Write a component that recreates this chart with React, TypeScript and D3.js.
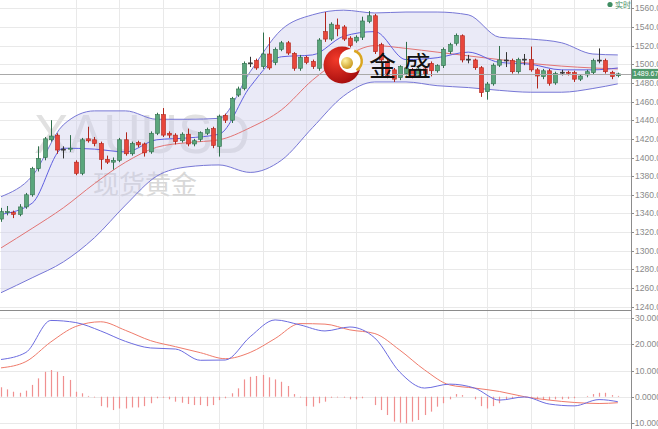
import React, { useRef, useEffect } from 'react';
import * as d3 from 'd3';

// daily candles: [open, high, low, close]
const ohlc: [number, number, number, number][] = [
  [1334, 1346, 1331, 1342], [1341, 1348, 1338, 1342], [1341, 1343, 1335, 1339], [1339, 1350, 1337, 1347],
  [1347, 1362, 1345, 1360], [1360, 1390, 1358, 1388], [1388, 1412, 1385, 1399], [1400, 1422, 1397, 1420],
  [1419, 1440, 1417, 1423], [1424, 1426, 1404, 1408], [1409, 1412, 1399, 1409], [1409, 1424, 1406, 1410],
  [1395, 1397, 1381, 1383], [1383, 1421, 1381, 1419], [1420, 1433, 1416, 1418], [1419, 1422, 1412, 1415],
  [1415, 1417, 1387, 1398], [1398, 1402, 1393, 1395], [1395, 1400, 1387, 1397], [1397, 1421, 1395, 1419],
  [1419, 1427, 1402, 1404], [1404, 1417, 1402, 1415], [1416, 1418, 1411, 1413.5], [1414.5, 1416, 1401, 1405],
  [1406, 1428, 1404, 1426], [1426, 1448, 1424, 1446], [1446, 1453, 1422, 1424], [1426, 1428, 1421, 1424],
  [1424, 1426, 1414, 1417], [1418, 1427, 1416, 1425], [1425, 1431, 1412, 1414.5], [1414.5, 1420, 1412, 1418],
  [1419.5, 1428, 1417, 1426.6], [1426, 1432, 1424, 1430], [1431, 1433, 1410, 1413], [1412, 1446, 1401, 1444],
  [1445, 1447, 1437, 1440], [1440, 1465, 1437, 1463.5], [1467, 1476, 1465, 1473.5], [1474, 1503, 1472, 1501],
  [1501, 1508, 1497, 1501.5], [1504, 1506, 1494, 1496], [1497.5, 1534, 1495, 1511], [1511, 1529, 1494, 1496],
  [1501.7, 1518, 1499, 1516], [1516, 1525, 1514, 1523], [1523, 1525, 1510, 1512], [1511.7, 1513, 1493, 1495.7],
  [1495.7, 1510, 1493, 1507.5], [1507.5, 1509, 1500, 1502], [1503, 1505, 1495, 1497.5], [1495.7, 1528, 1493, 1526],
  [1535, 1556, 1524, 1527], [1527, 1545, 1525, 1543], [1542, 1549, 1530, 1538], [1540, 1542, 1525, 1527],
  [1528, 1530, 1518, 1520], [1525, 1531, 1523, 1529], [1529, 1551, 1526, 1546.4], [1546, 1557, 1544, 1552],
  [1552, 1554, 1511, 1513.5], [1521, 1523, 1502, 1504.6], [1503, 1505, 1485, 1488], [1494, 1496, 1481, 1484],
  [1485.6, 1499, 1483, 1497.6], [1490, 1524, 1488, 1496], [1494, 1496, 1485, 1487], [1488, 1497, 1486, 1495],
  [1495, 1497, 1486, 1489], [1501, 1503, 1487, 1493], [1493, 1500, 1491, 1498.5], [1498.5, 1518, 1496, 1516],
  [1513.5, 1523, 1511, 1521], [1522.5, 1533, 1520, 1531], [1530.6, 1532, 1502, 1504.6], [1505, 1510, 1501, 1505.5],
  [1504.6, 1506, 1494, 1496.3], [1496.3, 1498, 1465, 1469.5], [1470.6, 1481, 1462, 1478.8], [1479, 1501, 1477, 1499],
  [1499, 1519.6, 1497, 1504.6], [1504.6, 1513, 1497, 1504], [1504, 1506, 1490, 1492], [1492, 1507, 1490, 1505],
  [1505, 1511, 1499, 1505.5], [1505, 1519, 1492, 1494], [1494, 1496, 1474, 1487.4], [1486.7, 1495, 1484, 1493],
  [1493, 1495, 1477, 1479.6], [1480, 1492, 1478, 1490], [1491, 1494, 1488, 1491.5], [1491.4, 1493, 1488, 1490.4],
  [1491, 1493, 1481, 1484], [1484, 1489, 1482, 1487.4], [1488.5, 1494, 1486, 1492], [1491, 1506, 1489, 1504],
  [1504, 1517, 1501, 1504.5], [1504, 1506, 1490, 1492], [1491.4, 1493, 1484, 1486.7], [1487.7, 1491, 1486, 1489.67],
];

const lastPrice = 1489.67;

// bollinger / MA readings, taken at these candle indexes
const bandIdx = [0, 5, 10, 15, 20, 25, 30, 35, 40, 45, 50, 55, 60, 65, 70, 75, 80, 85, 90, 95, 99];
const upperBand = [1358, 1380, 1435, 1450, 1450, 1441, 1441, 1442, 1492, 1537, 1553, 1558, 1555, 1556, 1556, 1553, 1529, 1527, 1523, 1511, 1510];
const lowerBand = [1255, 1271, 1288, 1314, 1349, 1380, 1390, 1392, 1384, 1397, 1432, 1466, 1481, 1481, 1477, 1475, 1472, 1470, 1470, 1474, 1479];
const midBand = [1303, 1324, 1346, 1372, 1395, 1411, 1416, 1419, 1432, 1451, 1483, 1507, 1520, 1517, 1513, 1509, 1505, 1501, 1498, 1496, 1495];
const fastMA = [1339, 1351, 1410, 1409, 1406, 1419, 1421, 1425, 1476, 1508, 1510, 1530, 1535, 1505, 1507, 1513, 1502, 1500, 1494, 1494, 1496];

// MACD
const macdIdx = [0, 4, 8, 12, 16, 20, 24, 28, 32, 36, 40, 44, 48, 52, 56, 60, 64, 68, 72, 76, 80, 84, 88, 92, 96, 99];
const dif = [14.2, 16.9, 29.1, 28.3, 25.1, 21.1, 18.6, 18.2, 13.9, 14.0, 22.9, 29.3, 27.4, 25.1, 26.6, 22.4, 9.4, 3.3, 4.8, 3.3, -1.3, -0.1, -2.8, -3.5, -1.1, -1.9];
const dea = [11.0, 13.4, 20.9, 26.8, 28.6, 25.3, 21.4, 19.1, 16.8, 14.5, 16.9, 22.2, 27.9, 27.7, 25.5, 24.1, 17.8, 10.2, 4.5, 3.3, 2.0, 0.0, -1.3, -2.2, -2.6, -2.3];
const hist = [
  3.6, 2.8, 1.9, 1.5, 2.3, 4.5, 7.0, 9.5, 10.2, 9.5,
  7.9, 6.4, 1.9, 1.3, 0.3, -0.3, -3.6, -4.1, -5.1, -4.5,
  -4.5, -4.1, -4.1, -3.6, -2.5, -0.6, -0.4, -1.0, -1.9, -2.3,
  -2.8, -3.2, -3.2, -3.6, -3.2, -1.3, -0.6, 1.3, 3.2, 6.6,
  7.6, 7.9, 8.3, 7.4, 6.6, 5.7, 4.1, 1.0, -0.3, -3.6,
  -3.8, -2.5, -1.9, -0.4, -0.3, -0.4, -1.0, -1.0, -0.6, 0,
  -3.2, -5.1, -7.0, -9.5, -9.9, -10.2, -9.5, -8.9, -7.0, -5.7,
  -3.8, -2.5, -1.0, 1.0, 0.6, 0, -1.0, -3.6, -4.5, -3.6,
  -2.5, -1.0, -0.6, -0.3, 0, -0.4, -1.0, -1.3, -1.3, -1.0,
  -1.0, -0.8, -0.6, 0, 0.3, 1.0, 1.5, 1.5, 0.6, 0.3,
];

const priceTicks = [1560, 1540, 1520, 1500, 1480, 1460, 1440, 1420, 1400, 1380, 1360, 1340, 1320, 1300, 1280, 1260, 1240];
const macdTicks = [30, 20, 10, 0, -10];
const gridIdx = [12, 19, 26, 35, 42, 49, 57, 71, 78, 85, 92];

const W = 658;
const H = 429;
const PLOT_R = 631;
const SPLIT = 310;

const App: React.FC = () => {
  const svgRef = useRef<SVGSVGElement | null>(null);

  useEffect(() => {
    if (!svgRef.current) return;
    const svg = d3.select(svgRef.current);
    svg.selectAll('*').remove();

    const x = d3.scaleLinear().domain([0, 99]).range([1, 617.8]);
    const yP = d3.scaleLinear().domain([1240, 1560]).range([306.7, 8.3]);
    const yM = d3.scaleLinear().domain([-10, 30]).range([422.9, 318.1]);

    svg.append('rect').attr('width', W).attr('height', H).attr('fill', '#fff');

    const defs = svg.append('defs');
    defs.append('clipPath').attr('id', 'clipP')
      .append('rect').attr('x', 0).attr('y', 0).attr('width', PLOT_R).attr('height', SPLIT);
    defs.append('clipPath').attr('id', 'clipM')
      .append('rect').attr('x', 0).attr('y', SPLIT).attr('width', PLOT_R).attr('height', H - SPLIT);
    const red = defs.append('radialGradient').attr('id', 'logoRed').attr('cx', '35%').attr('cy', '35%').attr('r', '70%');
    red.append('stop').attr('offset', '0%').attr('stop-color', '#f23a2a');
    red.append('stop').attr('offset', '100%').attr('stop-color', '#a50d0d');
    const gold = defs.append('radialGradient').attr('id', 'logoGold').attr('cx', '35%').attr('cy', '30%').attr('r', '75%');
    gold.append('stop').attr('offset', '0%').attr('stop-color', '#fff2a0');
    gold.append('stop').attr('offset', '100%').attr('stop-color', '#c8961a');

    // grid
    const grid = svg.append('g').attr('stroke', '#e9e9e9').attr('stroke-width', 1);
    grid.selectAll('line.hp').data(priceTicks).join('line')
      .attr('x1', 0).attr('x2', PLOT_R)
      .attr('y1', d => Math.round(yP(d)) + 0.5).attr('y2', d => Math.round(yP(d)) + 0.5);
    grid.selectAll('line.hm').data(macdTicks).join('line')
      .attr('x1', 0).attr('x2', PLOT_R)
      .attr('y1', d => Math.round(yM(d)) + 0.5).attr('y2', d => Math.round(yM(d)) + 0.5);
    grid.selectAll('line.v').data(gridIdx).join('line')
      .attr('x1', d => Math.round(x(d)) + 0.5).attr('x2', d => Math.round(x(d)) + 0.5)
      .attr('y1', 0).attr('y2', H);

    const price = svg.append('g').attr('clip-path', 'url(#clipP)');

    // watermark
    price.append('text')
      .attr('x', 34).attr('y', 153)
      .attr('font-family', 'Liberation Sans, Arial, sans-serif')
      .attr('font-size', 56)
      .attr('textLength', 216).attr('lengthAdjust', 'spacingAndGlyphs')
      .attr('fill', '#e1e1e1')
      .text('XAUUSD');
    price.append('text')
      .attr('x', 93).attr('y', 194)
      .attr('font-family', 'Noto Sans CJK SC, sans-serif')
      .attr('font-size', 26)
      .attr('fill', '#d8d8d8')
      .text('现货黄金');

    // bollinger band
    const bandRows = bandIdx.map((i, k) => ({ i, up: upperBand[k], lo: lowerBand[k], mid: midBand[k], ma: fastMA[k] }));
    price.append('path')
      .datum(bandRows)
      .attr('fill', 'rgba(205,205,235,0.42)')
      .attr('d', d3.area<any>().x(d => x(d.i)).y0(d => yP(d.lo)).y1(d => yP(d.up)).curve(d3.curveMonotoneX));

    const lineOf = (key: string) =>
      d3.line<any>().x(d => x(d.i)).y(d => yP(d[key])).curve(d3.curveMonotoneX);
    price.append('path').datum(bandRows).attr('fill', 'none').attr('stroke', '#7777d6').attr('stroke-width', 1).attr('d', lineOf('up'));
    price.append('path').datum(bandRows).attr('fill', 'none').attr('stroke', '#7777d6').attr('stroke-width', 1).attr('d', lineOf('lo'));
    price.append('path').datum(bandRows).attr('fill', 'none').attr('stroke', '#e27474').attr('stroke-width', 1).attr('d', lineOf('mid'));
    price.append('path').datum(bandRows).attr('fill', 'none').attr('stroke', '#5f5fe0').attr('stroke-width', 1).attr('d', lineOf('ma'));

    // current price line
    const yLast = Math.round(yP(lastPrice)) + 0.5;
    svg.append('line').attr('x1', 0).attr('x2', PLOT_R).attr('y1', yLast).attr('y2', yLast)
      .attr('stroke', '#a9a9a9').attr('stroke-width', 1);

    // candles
    const candles = price.selectAll('g.c').data(ohlc).join('g');
    const isDoji = (d: number[]) => Math.abs(d[3] - d[0]) < 1;
    const border = (d: number[]) => (isDoji(d) ? '#333' : d[3] >= d[0] ? '#2f6f4b' : '#b0251c');
    candles.append('line')
      .attr('x1', (_d, i) => Math.round(x(i)) + 0.5).attr('x2', (_d, i) => Math.round(x(i)) + 0.5)
      .attr('y1', d => yP(d[1])).attr('y2', d => yP(d[2]))
      .attr('stroke', d => border(d)).attr('stroke-width', 1);
    candles.append('rect')
      .attr('x', (_d, i) => Math.round(x(i)) - 1.5)
      .attr('width', 4)
      .attr('y', d => yP(Math.max(d[0], d[3])))
      .attr('height', d => Math.max(1, Math.abs(yP(d[0]) - yP(d[3]))))
      .attr('fill', d => (isDoji(d) ? '#444' : d[3] >= d[0] ? '#5aa67c' : '#e8463b'))
      .attr('stroke', d => border(d)).attr('stroke-width', 0.6);

    // logo
    const logo = svg.append('g');
    logo.append('circle').attr('cx', 342).attr('cy', 65).attr('r', 18.5).attr('fill', 'url(#logoRed)');
    logo.append('circle').attr('cx', 351).attr('cy', 61).attr('r', 12).attr('fill', '#fff');
    logo.append('path')
      .attr('d', d3.arc()({ innerRadius: 9.5, outerRadius: 12, startAngle: 0.3, endAngle: 2.6 }) as string)
      .attr('transform', 'translate(351,61)').attr('fill', '#d9a521');
    logo.append('circle').attr('cx', 347).attr('cy', 63).attr('r', 6).attr('fill', 'url(#logoGold)');
    svg.append('text')
      .attr('x', 369).attr('y', 76)
      .attr('font-family', 'Noto Sans CJK SC, sans-serif')
      .attr('font-size', 27).attr('letter-spacing', 8)
      .attr('fill', '#111')
      .text('金盛');

    // MACD panel
    const macd = svg.append('g').attr('clip-path', 'url(#clipM)');
    macd.selectAll('line.h').data(hist).join('line')
      .attr('x1', (_d, i) => Math.round(x(i)) + 0.5).attr('x2', (_d, i) => Math.round(x(i)) + 0.5)
      .attr('y1', yM(0)).attr('y2', d => yM(d))
      .attr('stroke', '#f09090').attr('stroke-width', 1.2);
    const macdRows = macdIdx.map((i, k) => ({ i, dif: dif[k], dea: dea[k] }));
    const mline = (key: string) =>
      d3.line<any>().x(d => x(d.i)).y(d => yM(d[key])).curve(d3.curveMonotoneX);
    macd.append('path').datum(macdRows).attr('fill', 'none').attr('stroke', '#ef7b6b').attr('stroke-width', 1).attr('d', mline('dea'));
    macd.append('path').datum(macdRows).attr('fill', 'none').attr('stroke', '#6c6ce0').attr('stroke-width', 1).attr('d', mline('dif'));

    // frame
    svg.append('line').attr('x1', 0).attr('x2', PLOT_R).attr('y1', SPLIT + 0.5).attr('y2', SPLIT + 0.5)
      .attr('stroke', '#8c8c8c').attr('stroke-width', 1.2);
    svg.append('line').attr('x1', PLOT_R + 0.5).attr('x2', PLOT_R + 0.5).attr('y1', 0).attr('y2', H)
      .attr('stroke', '#8c8c8c').attr('stroke-width', 1);

    // right axis
    const axisFont = 'Liberation Sans, Arial, sans-serif';
    const pAxis = svg.append('g');
    pAxis.selectAll('line').data(priceTicks).join('line')
      .attr('x1', PLOT_R).attr('x2', PLOT_R + 3)
      .attr('y1', d => Math.round(yP(d)) + 0.5).attr('y2', d => Math.round(yP(d)) + 0.5)
      .attr('stroke', '#8c8c8c');
    pAxis.selectAll('text').data(priceTicks).join('text')
      .attr('x', PLOT_R + 4).attr('y', d => yP(d) + 3)
      .attr('font-family', axisFont).attr('font-size', 8.5).attr('fill', '#8a8a8a')
      .text(d => d.toFixed(2));
    const mAxis = svg.append('g');
    mAxis.selectAll('line').data(macdTicks).join('line')
      .attr('x1', PLOT_R).attr('x2', PLOT_R + 3)
      .attr('y1', d => Math.round(yM(d)) + 0.5).attr('y2', d => Math.round(yM(d)) + 0.5)
      .attr('stroke', '#8c8c8c');
    mAxis.selectAll('text').data(macdTicks).join('text')
      .attr('x', d => (d < 0 ? PLOT_R + 1 : PLOT_R + 4)).attr('y', d => yM(d) + 3)
      .attr('font-family', axisFont).attr('font-size', 8.5).attr('fill', '#8a8a8a')
      .text(d => d.toFixed(4));

    // last price tag
    svg.append('rect').attr('x', PLOT_R + 1).attr('y', yP(lastPrice) - 5).attr('width', W - PLOT_R).attr('height', 10)
      .attr('fill', '#4f9a6c');
    svg.append('text').attr('x', PLOT_R + 2).attr('y', yP(lastPrice) + 2.5)
      .attr('font-family', axisFont).attr('font-size', 7).attr('fill', '#fff')
      .text(lastPrice.toFixed(2));

    // legend
    svg.append('circle').attr('cx', 610).attr('cy', 4.5).attr('r', 2.6).attr('fill', '#3f8d62');
    svg.append('text').attr('x', 615).attr('y', 8)
      .attr('font-family', 'Noto Sans CJK SC, sans-serif').attr('font-size', 8).attr('fill', '#3f8d62')
      .text('实时');
  }, []);

  return (
    <svg
      ref={svgRef}
      width={W}
      height={H}
      style={{ position: 'absolute', left: 0, top: 0, display: 'block' }}
    />
  );
};

export default App;
